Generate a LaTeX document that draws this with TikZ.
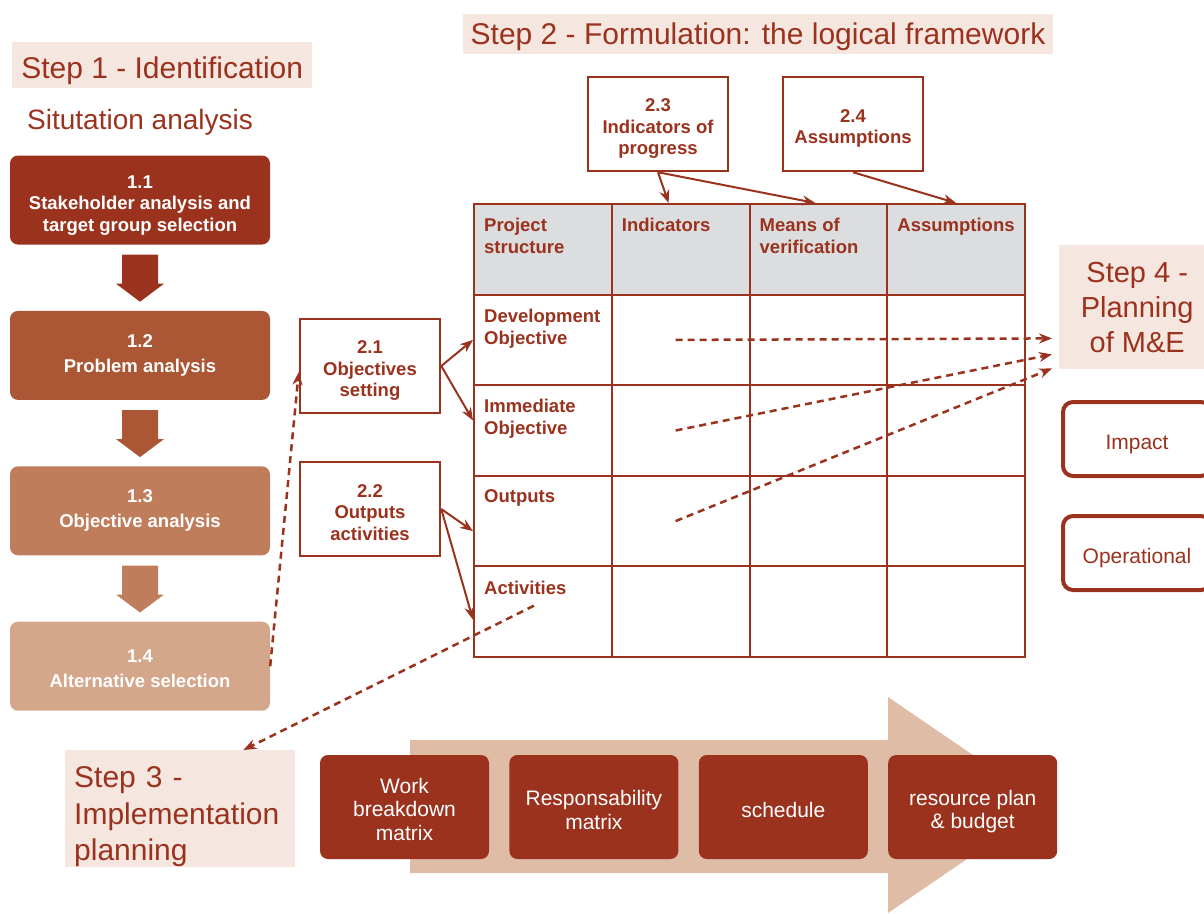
\documentclass[tikz,border=0pt]{standalone}
\usepackage{fontspec}
\setmainfont{Liberation Sans}
\usetikzlibrary{arrows.meta,calc,positioning}

\definecolor{ilored}{RGB}{155,50,30}
\definecolor{lvlb}{RGB}{171,86,52}
\definecolor{lvlc}{RGB}{192,125,92}
\definecolor{lvld}{RGB}{212,166,138}
\definecolor{headbg}{RGB}{245,230,223}
\definecolor{arrowbg}{RGB}{223,188,166}
\definecolor{tablegray}{RGB}{220,221,223}

% first-line strut, pushes the text of a box a little down
\newcommand{\firstline}[1]{\rule{0pt}{#1}}

\tikzset{
	heading/.style={fill=headbg, text=ilored, inner sep=0pt,
			font=\fontsize{30}{36}\selectfont},
	sublabel/.style={text=ilored, inner sep=0pt, font=\fontsize{28}{32}\selectfont},
	stagebox/.style={rounded corners=8pt, text=white, align=center,
			minimum width=260pt, minimum height=89pt,
			font=\bfseries\fontsize{18.5}{25}\selectfont},
	formbox/.style={draw=ilored, line width=2.5pt, fill=white, text=ilored, align=center,
			minimum width=140pt, minimum height=94pt,
			font=\bfseries\fontsize{18.5}{21.5}\selectfont},
	cell/.style={draw=ilored, line width=2pt, minimum width=137.75pt,
			minimum height=90.6pt, inner sep=0pt, anchor=north west},
	celltext/.style={text=ilored, align=left, anchor=north west, inner sep=0pt,
			font=\bfseries\fontsize{18.5}{22}\selectfont},
	mebox/.style={draw=ilored, line width=4pt, rounded corners=10pt, fill=white,
			text=ilored, minimum width=148pt, minimum height=74pt,
			font=\fontsize{21}{24}\selectfont,
			execute at begin node=\firstline{25pt}},
	planbox/.style={fill=ilored, rounded corners=8pt, text=white, align=center,
			minimum width=169pt, minimum height=104pt,
			font=\fontsize{21}{23.5}\selectfont},
	link/.style={draw=ilored, line width=2pt, -{Stealth[length=13pt,width=10pt]}},
	mlink/.style={link, line width=2.5pt, dash pattern=on 7pt off 5pt}
}

\begin{document}
\begin{tikzpicture}[x=1pt,y=-1pt]
	\useasboundingbox (0,0) rectangle (1204,913);

	% Step 1
	\node[heading, minimum width=300pt, minimum height=46pt, anchor=north west,
		execute at begin node=\firstline{32pt}] (s1) at (12,42) {Step 1 - Identification};
	\node[sublabel, anchor=west] (sit) at (27,122) {Situtation analysis};

	\node[stagebox, fill=ilored, font=\bfseries\fontsize{18.5}{21.5}\selectfont] (a11) at (140,200)
		{\firstline{23.5pt}1.1\\Stakeholder analysis and\\target group selection};
	\node[stagebox, fill=lvlb, below=66pt of a11] (a12) {1.2\\Problem analysis};
	\node[stagebox, fill=lvlc, below=66pt of a12] (a13) {1.3\\Objective analysis};
	\node[stagebox, fill=lvld, below=66pt of a13] (a14) {\firstline{18pt}1.4\\Alternative selection};

	\foreach \a/\c in {a11/ilored, a12/lvlb, a13/lvlc}
		\fill[\c] ($(\a.south)+(-18,10)$) -- ++(36,0) -- ++(0,29) -- ++(6,0)
			-- ++(-24,18) -- ++(-24,-18) -- ++(6,0) -- cycle;

	% Step 2
	\node[heading, minimum width=590pt, minimum height=40pt,
		execute at begin node=\firstline{28pt}] (s2) at (758,34) {Step 2 - Formulation: the logical framework};

	\node[formbox] (o21) at (370,366) {\firstline{22pt}2.1\\Objectives\\setting};
	\node[formbox] (o22) at (370,509) {\firstline{20pt}2.2\\Outputs\\activities};
	\node[formbox] (o23) at (658,124) {\firstline{22pt}2.3\\Indicators of\\progress};
	\node[formbox] (o24) at (853,124) {\firstline{22pt}2.4\\Assumptions};

	% Logical framework table
	\foreach \r/\bg in {0/tablegray, 1/white, 2/white, 3/white, 4/white}
		\foreach \k in {0,...,3}
			\node[cell, fill=\bg] (c\r\k) at (473+\k*137.75, 203+\r*90.6) {};

	\node[celltext] (t00) at ([xshift=11pt,yshift=-15pt]c00.north west) {Project\\structure};
	\node[celltext] (t01) at ([xshift=11pt,yshift=-15pt]c01.north west) {Indicators};
	\node[celltext] (t02) at ([xshift=11pt,yshift=-15pt]c02.north west) {Means of\\verification};
	\node[celltext] (t03) at ([xshift=11pt,yshift=-15pt]c03.north west) {Assumptions};
	\node[celltext] (t10) at ([xshift=11pt,yshift=-15pt]c10.north west) {Development\\Objective};
	\node[celltext] (t20) at ([xshift=11pt,yshift=-15pt]c20.north west) {Immediate\\Objective};
	\node[celltext] (t30) at ([xshift=11pt,yshift=-15pt]c30.north west) {Outputs};
	\node[celltext] (t40) at ([xshift=11pt,yshift=-15pt]c40.north west) {Activities};

	\draw[link] (o21.east) -- (c10.west);
	\draw[link] (o21.east) -- ([yshift=10pt]c20.west);
	\draw[link] (o22.east) -- ([yshift=-10pt]c30.west);
	\draw[link] (o22.east) -- ([yshift=-8pt]c40.west);
	\draw[link] (o23.south) -- ([xshift=-12pt]c01.north);
	\draw[link] (o23.south) -- ([xshift=-3pt]c02.north);
	\draw[link] (o24.south) -- (c03.north);

	% Step 4
	\node[heading, anchor=north west, minimum width=156pt, minimum height=124pt, align=center,
		font=\fontsize{29}{35}\selectfont] (s4) at (1059,245) {Step 4 -\\Planning\\of M\&E};
	\node[mebox] (imp) at (1137,439) {Impact};
	\node[mebox] (ope) at (1137,553) {Operational};

	\draw[mlink] ([xshift=-5pt]c11.center) -- ([shift={(-7pt,31pt)}]s4.south west);
	\draw[mlink] ([xshift=-5pt]c21.center) -- ([shift={(-7pt,15pt)}]s4.south west);
	\draw[mlink] ([xshift=-5pt]c31.center) -- ([shift={(-7pt,1pt)}]s4.south west);

	% Step 3
	\fill[arrowbg] (410,740) -- (888,740) -- (888,697) -- (1046,805) -- (888,913)
		-- (888,873) -- (410,873) -- cycle;

	\node[heading, anchor=north west, minimum height=117pt, text width=212pt, inner xsep=9pt,
		align=left, font=\fontsize{30}{36.5}\selectfont,
		execute at begin node=\firstline{37pt}] (s3) at (65,750) {Step 3 -\\Implementation\\planning};

	\node[planbox] (p1) at (404.5,807) {\firstline{20pt}Work\\breakdown\\matrix};
	\node[planbox, right=20pt of p1] (p2) {\firstline{21pt}Responsability\\matrix};
	\node[planbox, right=20pt of p2] (p3) {\firstline{22pt}schedule};
	\node[planbox, right=20pt of p3] (p4) {\firstline{24pt}resource plan\\\& budget};

	\draw[mlink] (a14.east) -- ([yshift=-6pt]o21.west);
	\draw[mlink] ([shift={(-9pt,6pt)}]c40.center) -- ([xshift=-52pt]s3.north east);
\end{tikzpicture}
\end{document}
